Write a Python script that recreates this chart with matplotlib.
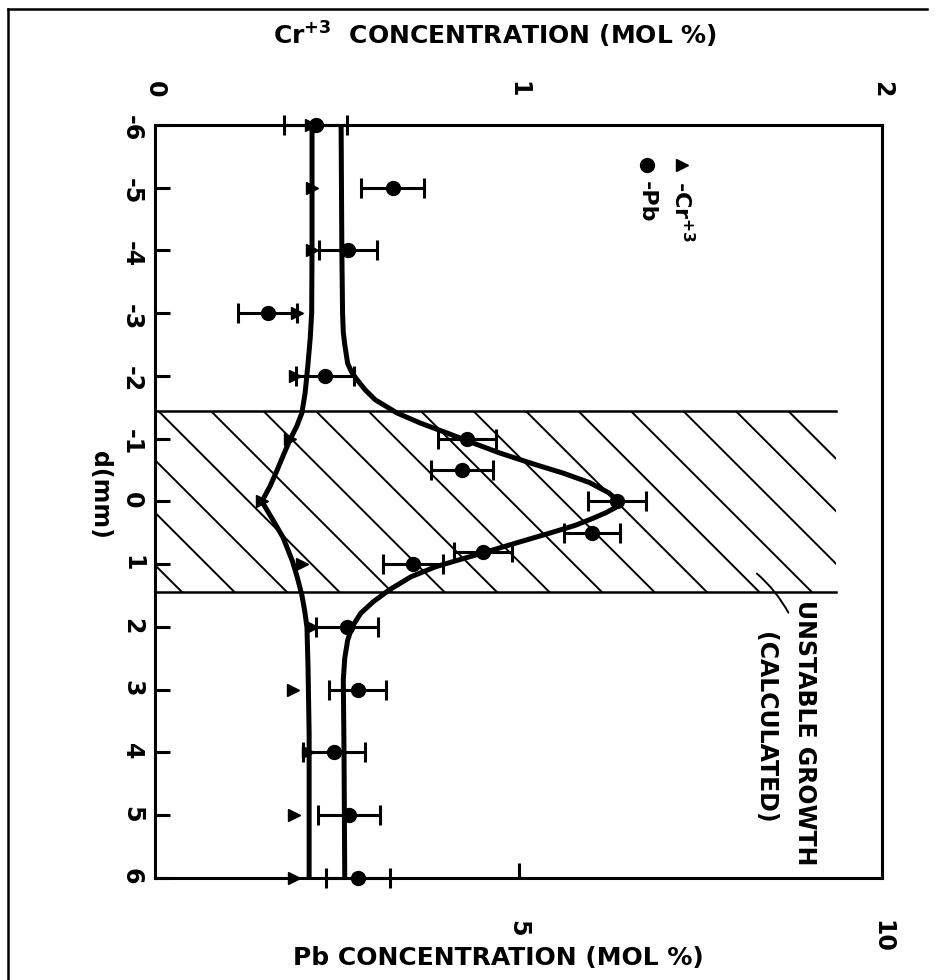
import numpy as np
import matplotlib
matplotlib.use("Agg")
import matplotlib.pyplot as plt
from matplotlib.patches import Rectangle
from matplotlib.lines import Line2D

# measured Pb (mol %) vs position d (mm)
pb_d = [-6, -5, -4, -3, -2, -1, -0.5, 0, 0.5, 0.8, 1, 2, 3, 4, 5, 6]
pb_val = [2.21, 3.27, 2.65, 1.55, 2.34, 4.29, 4.22, 6.35, 6.01, 4.51, 3.55, 2.64, 2.79, 2.46, 2.67, 2.79]
pb_err = [0.43, 0.43, 0.40, 0.41, 0.40, 0.40, 0.43, 0.40, 0.39, 0.40, 0.41, 0.43, 0.39, 0.43, 0.43, 0.44]

# measured Cr+3 (mol %) vs position d (mm)
cr_d = [-6, -5, -4, -3, -2, -1, 0, 1, 2, 3, 4, 5, 6]
cr_val = [0.43, 0.432, 0.432, 0.39, 0.385, 0.371, 0.294, 0.404, 0.432, 0.38, 0.421, 0.382, 0.382]

# hand drawn curves through the data
pb_fit_d = [-6, -4, -3, -2.7, -2.5, -2.2, -2.05, -1.94, -1.78, -1.62, -1.41, -1.25,
            -1.09, -0.93, -0.77, -0.6, -0.45, -0.3, -0.14, -0.05, 0.03, 0.1, 0.18,
            0.27, 0.38, 0.49, 0.65, 0.82, 0.93, 1.04, 1.2, 1.41, 1.6, 1.78, 2.0,
            2.21, 2.5, 2.84, 4, 6]
pb_fit = [2.56, 2.57, 2.58, 2.59, 2.61, 2.65, 2.71, 2.78, 2.89, 3.03, 3.33, 3.65,
          4.02, 4.38, 4.75, 5.2, 5.62, 5.98, 6.24, 6.33, 6.36, 6.33, 6.2,
          6.02, 5.78, 5.47, 5.0, 4.51, 4.18, 3.86, 3.52, 3.22, 3.0, 2.83, 2.71,
          2.65, 2.61, 2.59, 2.6, 2.61]
cr_fit_d = [-6, -4, -3, -2.6, -2.2, -1.73, -1.41, -1.2, -0.98, -0.75, -0.5, -0.25,
            0, 0.3, 0.57, 0.73, 0.95, 1.2, 1.49, 1.75, 2.0, 2.64, 3.69, 6]
cr_fit = [0.432, 0.432, 0.431, 0.427, 0.421, 0.413, 0.404, 0.39, 0.371, 0.354,
          0.336, 0.317, 0.294, 0.325, 0.352, 0.363, 0.378, 0.391, 0.404, 0.412,
          0.418, 0.421, 0.424, 0.424]

# calculated unstable growth band
band_d = (-1.45, 1.45)
band_pb = 9.37

d_ticks = list(range(-6, 7))
pb_ticks = [5, 10]
cr_ticks = [0, 1, 2]

plt.rcParams['font.family'] = 'DejaVu Sans'
plt.rcParams['font.weight'] = 'bold'
plt.rcParams['mathtext.fontset'] = 'dejavusans'
plt.rcParams['mathtext.default'] = 'bf'

fig = plt.figure(figsize=(9.36, 9.8), dpi=100)
ax = fig.add_axes([155 / 936, 1 - 878 / 980, 727 / 936, 753 / 980])
ax.set_xlim(0, 10)
ax.set_ylim(6, -6)
ax2 = ax.twiny()
ax2.set_xlim(0, 2)

for s in ax.spines.values():
    s.set_linewidth(2.2)

# hatched band
rect = Rectangle((0, band_d[0]), band_pb, band_d[1] - band_d[0], fill=False,
                 edgecolor='none')
ax.add_patch(rect)
h = band_d[1] - band_d[0]
slope = 62.75 / 72.7  # 45 deg on screen
for k in range(-6, 15):
    x0 = 0.04 + 0.722 * k
    ln, = ax.plot([x0, x0 + slope * h], [band_d[0], band_d[1]], color='k', lw=1.4,
                  zorder=1)
    ln.set_clip_path(rect)
for yy in band_d:
    ax.plot([0, band_pb], [yy, yy], color='k', lw=1.8, zorder=1)

# curves
ax.plot(pb_fit, pb_fit_d, color='k', lw=3.6, zorder=3, solid_joinstyle='round')
ax2.plot(cr_fit, cr_fit_d, color='k', lw=3.6, zorder=3, solid_joinstyle='round')

# data
cont = ax.errorbar(pb_val, pb_d, xerr=pb_err, fmt='o', color='k', ms=10,
                   capsize=7, capthick=2.2, elinewidth=2.2, zorder=4)
for a in list(cont.lines[1]) + list(cont.lines[2]) + [cont.lines[0]]:
    a.set_clip_on(False)
ax2.plot(cr_val, cr_d, '>', color='k', ms=9, clip_on=False, zorder=4)

# ticks
ax.set_yticks(d_ticks)
ax.set_yticklabels([str(v) for v in d_ticks])
ax.tick_params(axis='y', direction='in', length=11, width=2.2, pad=8,
               labelsize=17, labelrotation=270, right=False)
ax.set_xticks(pb_ticks)
ax.set_xticklabels([str(v) for v in pb_ticks])
ax.tick_params(axis='x', direction='in', length=11, width=2.2, pad=30,
               labelsize=17, labelrotation=270, top=False)
ax2.set_xticks(cr_ticks)
ax2.set_xticklabels([str(v) for v in cr_ticks])
ax2.tick_params(axis='x', direction='in', length=0, pad=20,
                labelsize=17, labelrotation=270)

# legend
ax.plot([0.725], [0.947], '>', color='k', ms=9, transform=ax.transAxes)
ax.plot([0.677], [0.947], 'o', color='k', ms=10, transform=ax.transAxes)
ax.text(0.725, 0.925, r'-Cr$^{+3}$', rotation=270, ha='center', va='top',
        fontsize=16, transform=ax.transAxes)
ax.text(0.677, 0.925, '-Pb', rotation=270, ha='center', va='top',
        fontsize=16, transform=ax.transAxes)

# band annotation
ax.text(8.94, 1.57, 'UNSTABLE GROWTH', rotation=270, ha='center', va='top',
        fontsize=17)
ax.text(8.39, 2.08, '(CALCULATED)', rotation=270, ha='center', va='top',
        fontsize=17)
ax.annotate('', xy=(8.25, 1.12), xytext=(8.73, 1.81),
            arrowprops=dict(arrowstyle='-', color='k', lw=1.4,
                            connectionstyle='arc3,rad=0.1'))

# axis titles
fig.text(495 / 936, 1 - 35 / 980, r'Cr$^{+3}$  CONCENTRATION (MOL %)',
         ha='center', va='center', fontsize=18)
fig.text(498 / 936, 1 - 958 / 980, 'Pb CONCENTRATION (MOL %)',
         ha='center', va='center', fontsize=18)
fig.text(100 / 936, 1 - 495 / 980, 'd(mm)', rotation=270, ha='center',
         va='center', fontsize=17)

# page frame
fig.add_artist(Line2D([8 / 936, 8 / 936], [0, 1 - 9 / 980], color='k', lw=1.8,
                      transform=fig.transFigure))
fig.add_artist(Line2D([8 / 936, 0.99], [1 - 9 / 980, 1 - 9 / 980], color='k',
                      lw=1.8, transform=fig.transFigure))

fig.savefig('out.png', dpi=100)
